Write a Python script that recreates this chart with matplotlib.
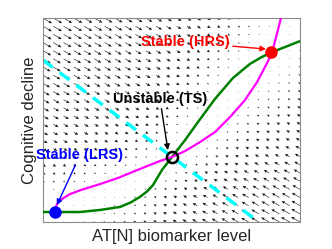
import numpy as np
import matplotlib
matplotlib.use("Agg")
import matplotlib.pyplot as plt

plt.rcParams['font.family'] = ['Liberation Sans', 'DejaVu Sans']

# nullclines (normalised axis units 0..1)
green_x = [0.0, 0.144, 0.222, 0.300, 0.340, 0.377, 0.405, 0.428, 0.463, 0.502,
           0.553, 0.603, 0.669, 0.739, 0.805, 0.850, 0.891, 0.950, 1.0]
green_y = [0.049, 0.049, 0.059, 0.074, 0.095, 0.123, 0.150, 0.181, 0.255, 0.319,
           0.402, 0.490, 0.603, 0.706, 0.775, 0.808, 0.833, 0.862, 0.887]

magenta_x = [0.047, 0.054, 0.074, 0.105, 0.148, 0.222, 0.292, 0.377, 0.455, 0.502,
             0.553, 0.611, 0.669, 0.728, 0.786, 0.833, 0.868, 0.891, 0.926]
magenta_y = [0.049, 0.088, 0.113, 0.137, 0.157, 0.186, 0.216, 0.260, 0.299, 0.319,
             0.348, 0.392, 0.441, 0.515, 0.598, 0.686, 0.770, 0.828, 1.0]

# separatrix (dashed cyan)
sep_x = [0.0, 0.840]
sep_y = [0.794, 0.0]

# fixed points
lrs = (0.047, 0.049)
ts = (0.502, 0.319)
hrs = (0.887, 0.833)

# direction of the flow arrows (dy/dx in axis units)
flow_slope = -0.73

# vector field on a 26 x 26 grid
g = np.linspace(0, 1, 26)
X, Y = np.meshgrid(g, g)
p = Y - np.interp(X, green_x, green_y)
q = np.interp(Y, magenta_y, magenta_x) - X
F = p + q
U = F / np.abs(F).max() * 0.035
V = U * flow_slope

fig = plt.figure(figsize=(3.32, 2.49), dpi=100)
ax = fig.add_axes([0.1295, 0.1084, 0.774, 0.819])

ax.quiver(X, Y, U, V, angles='xy', scale_units='xy', scale=1, color='#1a1a1a',
          units='dots', width=0.6, headwidth=5, headlength=5.5, headaxislength=5,
          zorder=1)

ax.plot(sep_x, sep_y, color='cyan', lw=2.5, dashes=(3.5, 2.5), zorder=2)
ax.plot(green_x, green_y, color=(0, 0.5, 0), lw=1.8, zorder=3)
ax.plot(magenta_x, magenta_y, color='magenta', lw=1.6, zorder=4)

ax.plot(*lrs, 'o', color='blue', ms=8, zorder=5)
ax.plot(*hrs, 'o', color='red', ms=8, zorder=5)
ax.plot(*ts, 'o', mfc='none', mec='black', mew=1.8, ms=8, zorder=5)

ax.annotate('Stable (HRS)', xy=(0.868, 0.848), xytext=(0.728, 0.882),
            color='red', fontsize=10.5, fontweight='bold', ha='right', va='center',
            arrowprops=dict(arrowstyle='-|>', color='red', lw=1,
                            mutation_scale=8, shrinkA=0, shrinkB=0), zorder=6)
ax.annotate('Unstable (TS)', xy=(0.486, 0.353), xytext=(0.455, 0.569),
            color='black', fontsize=10.5, fontweight='bold', ha='center', va='bottom',
            arrowprops=dict(arrowstyle='-|>', color='black', lw=1,
                            mutation_scale=8, shrinkA=0, shrinkB=0), zorder=6)
ax.annotate('Stable (LRS)', xy=(0.054, 0.083), xytext=(0.144, 0.294),
            color='blue', fontsize=10.5, fontweight='bold', ha='center', va='bottom',
            arrowprops=dict(arrowstyle='-|>', color='blue', lw=1,
                            mutation_scale=8, shrinkA=0, shrinkB=0), zorder=6)

ax.set_xlim(0, 1)
ax.set_ylim(0, 1)
ax.set_xticks([])
ax.set_yticks([])
for s in ax.spines.values():
    s.set_color('#8c8c8c')
    s.set_linewidth(0.8)
ax.set_xlabel('AT[N] biomarker level', fontsize=12, color='#262626', labelpad=5)
ax.set_ylabel('Cognitive decline', fontsize=12, color='#262626', labelpad=4)

fig.savefig('out.png', dpi=100)
